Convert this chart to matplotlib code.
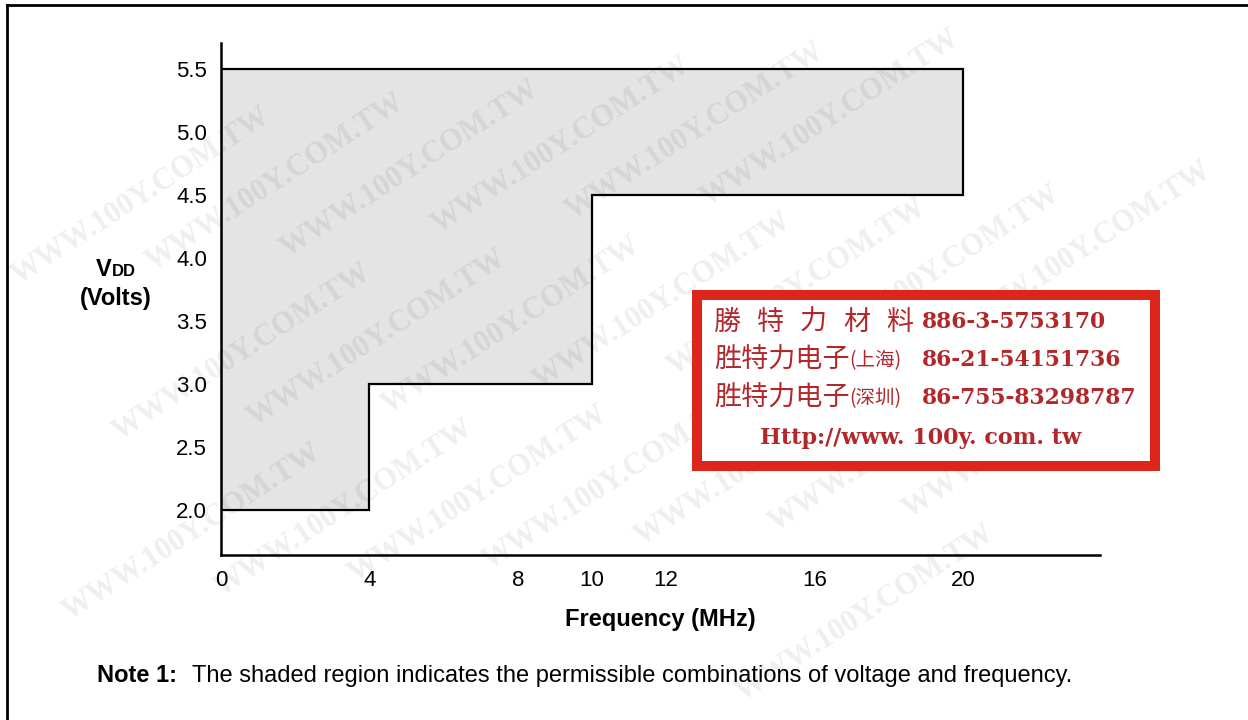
import numpy as np
import matplotlib
matplotlib.use("Agg")
import matplotlib.pyplot as plt
from matplotlib.patches import Polygon, Rectangle
from matplotlib.lines import Line2D

plt.rcParams['font.family'] = ['Liberation Sans', 'DejaVu Sans']

# operating region boundary (MHz, Volts)
freq = [0, 4, 4, 10, 10, 20, 20, 0]
vdd = [2.0, 2.0, 3.0, 3.0, 4.5, 4.5, 5.5, 5.5]

x_ticks = [0, 4, 8, 10, 12, 16, 20]
y_ticks = [2.0, 2.5, 3.0, 3.5, 4.0, 4.5, 5.0, 5.5]

stamp_names = ["勝特力材料", "胜特力电子", "胜特力电子"]
stamp_cities = ["", "(上海)", "(深圳)"]
stamp_phones = ["886-3-5753170", "86-21-54151736", "86-755-83298787"]
stamp_url = "Http://www. 100y. com. tw"
watermark = "WWW.100Y.COM.TW"

W, H = 1248, 720
fig = plt.figure(figsize=(W / 100, H / 100), dpi=100)


def fx(px):
    return px / W


def fy(py):
    return 1 - py / H


# faint diagonal watermark, keep only copies that fit on the page
ang = np.radians(33)
marks = []
for j in range(-8, 16):
    for i in range(-3, 6):
        cx = 40 + i * 380 * np.cos(ang) + j * 62 * np.sin(ang) + (j % 3) * 120 * np.cos(ang)
        cy = 40 - i * 380 * np.sin(ang) + j * 62 * np.cos(ang) - (j % 3) * 120 * np.sin(ang)
        if 0 < cx < W and 0 < cy < H:
            marks.append(fig.text(fx(cx), fy(cy), watermark, rotation=33,
                                  ha='center', va='center', fontsize=22, fontweight='bold',
                                  family='Liberation Serif', color='black', alpha=0.065,
                                  zorder=5))
fig.canvas.draw()
renderer = fig.canvas.get_renderer()
for t in marks:
    bb = t.get_window_extent(renderer)
    if bb.x0 < 1 or bb.y0 < 1 or bb.x1 > W - 1 or bb.y1 > H - 1:
        t.remove()

# page frame (top and left edge)
fig.add_artist(Line2D([fx(7), 1], [fy(5), fy(5)], color='black', lw=2))
fig.add_artist(Line2D([fx(7), fx(7)], [fy(5), 0], color='black', lw=2))

ax = fig.add_axes([fx(221), fy(555), fx(1100) - fx(221), fy(43) - fy(555)])
ax.set_facecolor('none')
ax.add_patch(Polygon(np.column_stack([freq, vdd]), closed=True,
                     facecolor='#e4e4e4', edgecolor='black', lw=1.6, zorder=1))
ax.set_xlim(0, 23.7)
ax.set_ylim(1.64, 5.71)
ax.set_xticks(x_ticks)
ax.set_xticklabels([str(v) for v in x_ticks])
ax.set_yticks(y_ticks)
ax.set_yticklabels([f"{v:.1f}" for v in y_ticks])
ax.tick_params(length=0, labelsize=16, pad=10)
ax.tick_params(axis='x', pad=11)
for side in ['top', 'right']:
    ax.spines[side].set_visible(False)
for side in ['left', 'bottom']:
    ax.spines[side].set_linewidth(1.8)

ax.set_xlabel("Frequency (MHz)", fontsize=17, fontweight='bold', labelpad=12)

# y label: V with small DD
fig.text(fx(96), fy(270), "V", fontsize=17, fontweight='bold', ha='left', va='center')
fig.text(fx(112), fy(272), "DD", fontsize=12, fontweight='bold', ha='left', va='center')
fig.text(fx(116), fy(298), "(Volts)", fontsize=17, fontweight='bold', ha='center', va='center')

# note
fig.text(fx(97), fy(676), "Note 1:", fontsize=17, fontweight='bold', ha='left', va='center')
fig.text(fx(192), fy(676), "The shaded region indicates the permissible combinations of voltage and frequency.",
         fontsize=17, ha='left', va='center')

# distributor stamp
red = '#dc261c'
ink = '#b3262a'
fig.add_artist(Rectangle((fx(692), fy(471)), fx(1160) - fx(692), fy(290) - fy(471),
                         facecolor=red, edgecolor='none', zorder=10))
fig.add_artist(Rectangle((fx(702), fy(461)), fx(1150) - fx(702), fy(300) - fy(461),
                         facecolor='white', edgecolor='none', zorder=11))
cjk = ['Noto Sans CJK SC', 'DejaVu Sans']
row_y = [322, 360, 398]
for k, (name, city, phone) in enumerate(zip(stamp_names, stamp_cities, stamp_phones)):
    if city == "":
        for n, ch in enumerate(name):
            fig.text(fx(714 + n * 43), fy(row_y[k]), ch, family=cjk, fontsize=19.5,
                     color=ink, ha='left', va='center', zorder=12)
    else:
        fig.text(fx(714), fy(row_y[k]), name, family=cjk, fontsize=19.5,
                 color=ink, ha='left', va='center', zorder=12)
        fig.text(fx(849), fy(row_y[k] + 1), city, family=cjk, fontsize=14,
                 color=ink, ha='left', va='center', zorder=12)
    fig.text(fx(922), fy(row_y[k]), phone, family='DejaVu Serif', fontweight='bold',
             fontsize=15.7, color=ink, ha='left', va='center', zorder=12)
fig.text(fx(921), fy(438), stamp_url, family='DejaVu Serif', fontweight='bold',
         fontsize=16, color=ink, ha='center', va='center', zorder=12)

fig.savefig("out.png", dpi=100)
